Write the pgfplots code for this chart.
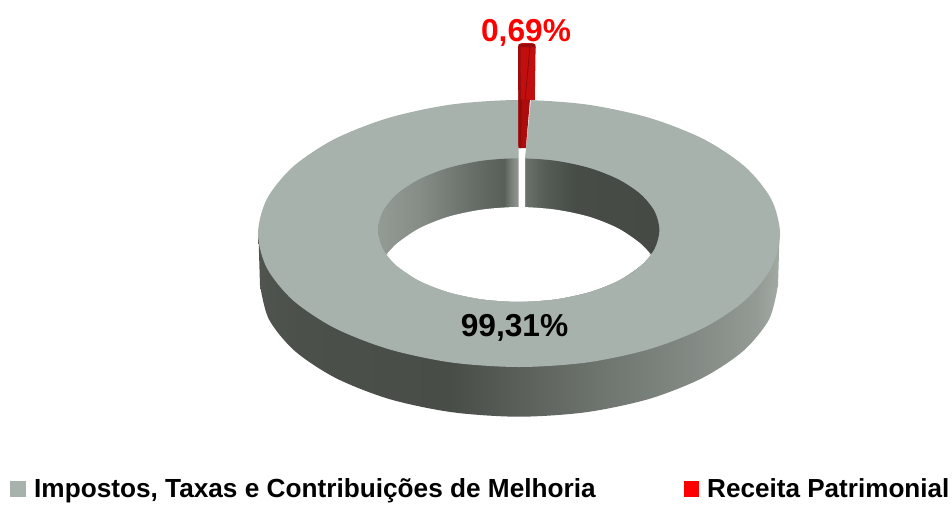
\documentclass[border=0pt]{standalone}
\usepackage{fontspec}
\setmainfont{Liberation Sans}
\usepackage{pgfplots}
\pgfplotsset{compat=1.18}

\definecolor{ring}{HTML}{A8B2AC}
\definecolor{slice}{HTML}{D20F0F}
% bbox of the path maps to 25bp..75bp
\pgfdeclarehorizontalshading{outerwall}{100bp}{
  rgb(0bp)=(.310,.330,.310); rgb(25bp)=(.310,.330,.310); rgb(29bp)=(.294,.314,.290);
  rgb(43.4bp)=(.282,.302,.278); rgb(50bp)=(.353,.373,.353); rgb(57.8bp)=(.431,.455,.431);
  rgb(67.3bp)=(.518,.545,.522); rgb(73bp)=(.580,.608,.584); rgb(75bp)=(.639,.667,.643);
  rgb(100bp)=(.639,.667,.643)}
\pgfdeclarehorizontalshading{innerwall}{100bp}{
  rgb(0bp)=(.576,.608,.580); rgb(25bp)=(.576,.608,.580); rgb(32.5bp)=(.525,.553,.525);
  rgb(41.3bp)=(.412,.439,.412); rgb(47.4bp)=(.345,.369,.345); rgb(48.6bp)=(.470,.498,.470);
  rgb(49.9bp)=(.565,.595,.570); rgb(51.3bp)=(.416,.443,.416); rgb(54.7bp)=(.337,.361,.337);
  rgb(60bp)=(.278,.298,.275); rgb(75bp)=(.271,.290,.267); rgb(100bp)=(.271,.290,.267)}

\begin{document}
\begin{tikzpicture}
\begin{axis}[
  scale only axis, width=952pt, height=504pt,
  xmin=0, xmax=952, ymin=0, ymax=504, y dir=reverse,
  axis lines=none, clip=false
]
% keep the whole frame in the page
\path (axis cs:0,0) rectangle (axis cs:952,504);
% outer wall, lower rim then the straight sides
\addplot[draw=none, shading=outerwall, smooth] coordinates {
(778,285)(769.2,319.1)(743.3,350.9)(702.1,378.1)(648.5,399.1)(586,412.2)(519,416.7)
(452,412.2)(389.5,399.1)(335.9,378.1)(294.7,350.9)(268.8,319.1)(260,285)
};
\addplot[draw=none, shading=outerwall] coordinates {
(779.5,236)(778,286)(260,286)(258.5,236)
};
% top face
\addplot[draw=none, fill=ring, smooth cycle] coordinates {
(780,233.5)(771.1,268.1)(745,300.3)(703.6,327.9)(649.5,349.1)(586.6,362.5)(519,367)
(451.4,362.5)(388.5,349.1)(334.4,327.9)(293,300.3)(266.9,268.1)(258,233.5)
(266.9,198.9)(293,166.7)(334.4,139.1)(388.5,117.9)(451.4,104.5)(519,100)
(586.6,104.5)(649.5,117.9)(703.6,139.1)(745,166.7)(771.1,198.9)
};
% inner wall
\addplot[draw=none, shading=innerwall, smooth cycle] coordinates {
(659.4,230)(654.6,248.6)(640.5,265.9)(618.2,280.7)(589.1,292.1)(555.1,299.3)(518.7,301.7)
(482.3,299.3)(448.3,292.1)(419.2,280.7)(396.9,265.9)(382.8,248.6)(378,230)
(382.8,211.4)(396.9,194.1)(419.2,179.3)(448.3,167.9)(482.3,160.7)(518.7,158.3)
(555.1,160.7)(589.1,167.9)(618.2,179.3)(640.5,194.1)(654.6,211.4)
};
% hole
\addplot[draw=none, fill=white, smooth] coordinates {
(650.9,254.5)(640.5,265.9)(618.2,280.7)(589.1,292.1)(555.1,299.3)(518.7,301.7)
(482.3,299.3)(448.3,292.1)(419.2,280.7)(396.9,265.9)(386.5,254.5)
};
\addplot[draw=none, fill=white, smooth] coordinates {
(386.5,254.5)(397.5,243)(419.7,228.1)(448.7,216.6)(482.5,209.5)(518.7,207)
(554.9,209.5)(588.7,216.6)(617.7,228.1)(639.9,243)(650.9,254.5)
};
\addplot[draw=none, fill=white] coordinates {(389,253)(649,253)(649,256)(389,256)};
% gap left by the slice
\addplot[draw=none, fill=white] coordinates {
(518.7,98)(531,98)(525,158)(525,209)(518.7,209)
};
% exploded slice
\addplot[draw=none, fill=slice!92!black, smooth] coordinates {
(518,48)(518.6,44.5)(521,43.3)(527,43)(533,43.3)(535,44.5)(535.6,48)
};
\addplot[draw=none, fill=slice!92!black] coordinates {
(518,47)(535.6,47)(534.8,100)(518.3,100)
};
\addplot[draw=none, fill=slice!82!black] coordinates {
(518.3,99.5)(530,99.5)(525.8,148)(518.5,148)
};
\addplot[draw=none, fill=slice!70!black] coordinates {
(518.3,99.5)(522,99.5)(521,148)(518.5,148)
};
\addplot[draw=none, fill=slice!75!black] coordinates {
(518,47)(520.5,47)(521,100)(518.3,100)
};
\addplot[draw=none, fill=slice!72!black] coordinates {
(519,44)(535,44)(535.5,47)(518.5,47)
};
\addplot[draw=slice!60!black, line width=0.6pt] coordinates {(530,47)(525,100)};
% labels
\node[anchor=base, text=red, font=\fontsize{31.7}{38}\bfseries\selectfont] at (axis cs:526,41) {0,69\%};
\node[anchor=base, font=\fontsize{31.7}{38}\bfseries\selectfont] at (axis cs:514.5,336) {99,31\%};
% legend
\addplot[draw=none, fill=ring] coordinates {(10,481)(26,481)(26,497)(10,497)};
\addplot[draw=none, fill=red] coordinates {(684,481)(699,481)(699,497)(684,497)};
\node[anchor=base west, inner sep=0pt, font=\fontsize{26.2}{32}\bfseries\selectfont] at (axis cs:34,497) {Impostos, Taxas e Contribuições de Melhoria};
\node[anchor=base west, inner sep=0pt, font=\fontsize{26.1}{32}\bfseries\selectfont] at (axis cs:707,497) {Receita Patrimonial};
\end{axis}
\end{tikzpicture}
\end{document}
